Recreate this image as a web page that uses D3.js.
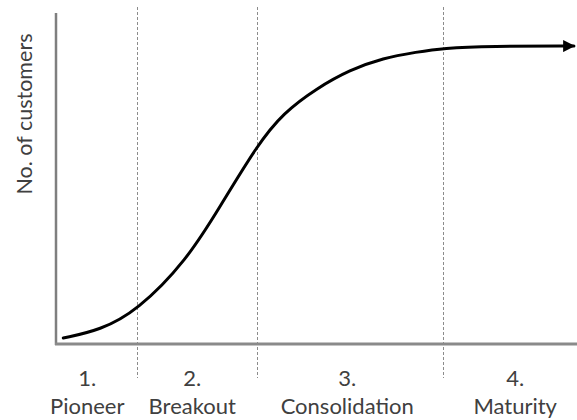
<!DOCTYPE html>
<html>
<head>
<meta charset="utf-8">
<script src="https://cdn.jsdelivr.net/npm/d3@7"></script>
<style>
  body { margin: 0; background: #fff; }
  text { font-family: Lato, "Open Sans", sans-serif; fill: #404040; }
</style>
</head>
<body>
<div id="chart"></div>
<script>
// stage names and where they end (time units, 0-100)
var stageNums = ["1.", "2.", "3.", "4."];
var stageNames = ["Pioneer", "Breakout", "Consolidation", "Maturity"];
var stageBounds = [15.6, 38.7, 74.4];
var labelAt = [6.0, 26.2, 56.0, 88.3];

// adoption curve (time, customers 0-100)
var curveT = [1.4, 1.4, 8.5, 15.6, 25.2, 31.5, 38.7, 43.7, 50.2, 56.5, 62.9, 69.4, 74.4, 83.5, 99.6, 99.6];
var curveV = [1.8, 1.8, 4.2, 10.0, 25.4, 41.4, 60.1, 69.8, 77.3, 82.8, 86.4, 88.2, 89.4, 90.0, 90.0, 90.0];

var yTitle = "No. of customers";

var W = 577, H = 420;
var margin = { top: 13, right: 1, bottom: 76, left: 56 };

var svg = d3.select("#chart").append("svg")
	.attr("width", W)
	.attr("height", H);

var x = d3.scaleLinear().domain([0, 100]).range([margin.left, W - margin.right]);
var y = d3.scaleLinear().domain([0, 100]).range([H - margin.bottom, margin.top]);

// arrow head
svg.append("defs").append("marker")
	.attr("id", "arrow")
	.attr("viewBox", "0 0 10 10")
	.attr("refX", 9)
	.attr("refY", 5)
	.attr("markerWidth", 5)
	.attr("markerHeight", 4)
	.attr("orient", "auto")
	.append("path")
	.attr("d", "M0,0 L10,5 L0,10 z")
	.attr("fill", "#000");

// dashed stage separators
svg.selectAll(".sep")
	.data(stageBounds)
	.enter().append("line")
	.attr("class", "sep")
	.attr("x1", function(d) { return Math.round(x(d)) + 0.5; })
	.attr("x2", function(d) { return Math.round(x(d)) + 0.5; })
	.attr("y1", margin.top - 6)
	.attr("y2", y(0) + 34)
	.attr("stroke", "#8c8c8c")
	.attr("stroke-width", 1)
	.attr("stroke-dasharray", "3,2");

// axes (plain lines, no ticks)
svg.append("line")
	.attr("x1", x(0)).attr("x2", x(0))
	.attr("y1", y(100)).attr("y2", y(0) + 1)
	.attr("stroke", "#7f7f7f")
	.attr("stroke-width", 2.5);

svg.append("line")
	.attr("x1", x(0) - 1).attr("x2", W)
	.attr("y1", y(0)).attr("y2", y(0))
	.attr("stroke", "#8a8a8a")
	.attr("stroke-width", 3);

// the s-curve
var pts = curveT.map(function(t, i) { return [t, curveV[i]]; });
var line = d3.line()
	.x(function(d) { return x(d[0]); })
	.y(function(d) { return y(d[1]); })
	.curve(d3.curveBasis);

svg.append("path")
	.datum(pts)
	.attr("d", line)
	.attr("fill", "none")
	.attr("stroke", "#000")
	.attr("stroke-width", 3)
	.attr("stroke-linecap", "round")
	.attr("marker-end", "url(#arrow)");

// stage labels
var lbl = svg.selectAll(".stage")
	.data(stageNames)
	.enter().append("g")
	.attr("class", "stage");

lbl.append("text")
	.attr("x", function(d, i) { return x(labelAt[i]); })
	.attr("y", 386)
	.attr("text-anchor", "middle")
	.style("font-size", "22px")
	.text(function(d, i) { return stageNums[i]; });

lbl.append("text")
	.attr("x", function(d, i) { return x(labelAt[i]); })
	.attr("y", 414)
	.attr("text-anchor", "middle")
	.style("font-size", "22px")
	.text(function(d) { return d; });

// y title
svg.append("text")
	.attr("transform", "translate(32,114) rotate(-90)")
	.attr("text-anchor", "middle")
	.style("font-size", "21.5px")
	.text(yTitle);
</script>
</body>
</html>
